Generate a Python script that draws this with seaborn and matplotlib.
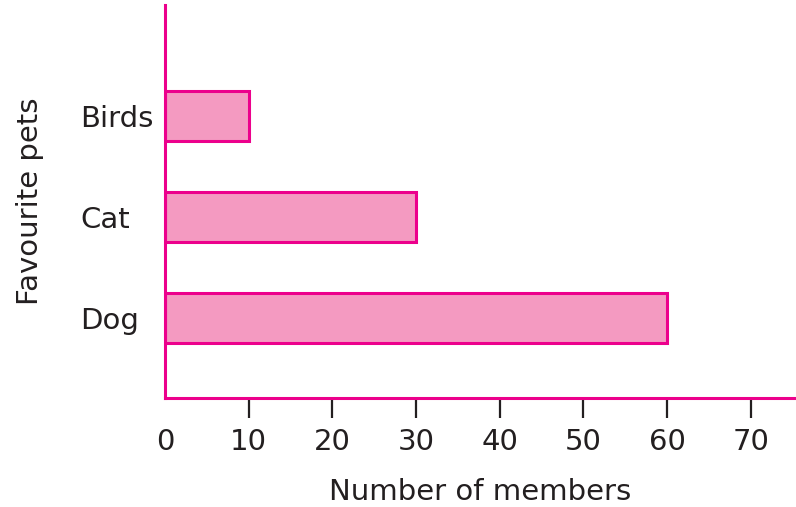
import matplotlib
matplotlib.use("Agg")
import matplotlib.pyplot as plt
import seaborn as sns

# data
pets = ["Birds", "Cat", "Dog"]
members = [10, 30, 60]
ticks = [0, 10, 20, 30, 40, 50, 60, 70]

pink_fill = "#F49AC1"
pink_line = "#EC008C"
ink = "#231F20"

sns.set_style("white")
plt.rcParams["font.family"] = ["DejaVu Sans"]

fig = plt.figure(figsize=(7.96, 5.07), dpi=100)
ax = fig.add_axes([0.2073, 0.215, 0.7927, 0.775])

sns.barplot(x=members, y=pets, orient="h", color=pink_fill, saturation=1,
            edgecolor=pink_line, linewidth=2.2, width=0.49, ax=ax)

ax.set_xlim(0, 75.4)
ax.set_ylim(2.79, -1.1)
ax.set_xticks(ticks)
ax.set_xticklabels([str(t) for t in ticks])

# axis lines
sns.despine(ax=ax, top=True, right=True)
for s in ["left", "bottom"]:
    ax.spines[s].set_color(pink_line)
    ax.spines[s].set_linewidth(2.2)

ax.tick_params(axis="x", length=14.5, width=1.6, color=ink, direction="out",
               pad=7, labelsize=21, labelcolor=ink, bottom=True)
ax.xaxis.get_major_ticks()[0].tick1line.set_visible(False)
ax.tick_params(axis="y", length=0, pad=61, labelsize=21, labelcolor=ink)
for lab in ax.get_yticklabels():
    lab.set_horizontalalignment("left")

ax.set_xlabel("Number of members", fontsize=21, color=ink, labelpad=16)
ax.set_ylabel("Favourite pets", fontsize=21, color=ink, labelpad=26)

fig.savefig("out.png", dpi=100)
